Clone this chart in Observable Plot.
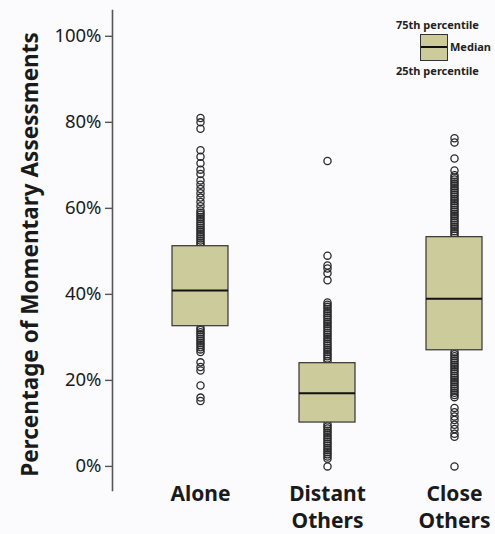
<!DOCTYPE html>
<html>
<head>
<meta charset="utf-8">
<script src="https://cdn.jsdelivr.net/npm/d3@7"></script>
<script src="https://cdn.jsdelivr.net/npm/@observablehq/plot@0.6"></script>
<style>
  html, body { margin: 0; padding: 0; background: #fbfbfd; }
  #wrap { position: relative; width: 495px; height: 534px; font-family: "Noto Sans", sans-serif; }
  .lg { position: absolute; font-size: 11px; font-weight: bold; color: #222; white-space: nowrap; line-height: 1; }
  #lgbox { position: absolute; left: 420px; top: 34px; width: 26px; height: 25px; background: #cbcb9b; border: 1.2px solid #333; }
  #lgmed { position: absolute; left: 0; right: 0; top: 11px; height: 0; border-top: 2px solid #111; }
</style>
</head>
<body>
<div id="wrap"></div>
<script>
const categories = ["Alone", "Distant Others", "Close Others"];
const q1 = [32.6, 10.2, 27];
const median = [40.9, 17, 39];
const q3 = [51.2, 24, 53.3];
const yTicks = [0, 20, 40, 60, 80, 100];

const aloneOutliers = [81, 80, 78.5, 73.5, 72, 70.5, 69, 68, 66.5, 65.5, 64.5, 63.5, 62.5, 61.5, 60.5, 59.5, 59, 58.5, 58, 57.5, 57, 56.5, 56, 55.5, 55, 54.5, 54, 53.5, 53, 52.5, 52, 51.6,
  32.2, 31.7, 31.2, 30.7, 30.2, 29.7, 29.2, 28.7, 28.2, 27.7, 27.2, 26.6, 24.2, 23.1, 22.3, 18.8, 16, 15.2];
const distantOutliers = [71, 49, 46.7, 46, 44.9, 43.3, 38.1, 37.6, 37.1, 36.6, 36.1, 35.6, 35.1, 34.6, 34.1, 33.6, 33.1, 32.6, 32.1, 31.6, 31.1, 30.6, 30.1, 29.6, 29.1, 28.6, 28.1, 27.6, 27.1, 26.6, 26.1, 25.6, 25.1, 24.5,
  9.8, 9.3, 8.8, 8.3, 7.8, 7.3, 6.8, 6.3, 5.8, 5.3, 4.8, 4.3, 3.8, 3.3, 2.8, 2.3, 1.8, 0];
const closeOutliers = [76.3, 75.3, 71.6, 68.8, 67.7, 67.2, 66.7, 66.2, 65.7, 65.2, 64.7, 64.2, 63.7, 63.2, 62.7, 62.2, 61.7, 61.2, 60.7, 60.2, 59.7, 59.2, 58.7, 58.2, 57.7, 57.2, 56.7, 56.2, 55.7, 55.2, 54.7, 54.2, 53.7,
  26.6, 26.1, 25.6, 25.1, 24.6, 24.1, 23.6, 23.1, 22.6, 22.1, 21.6, 21.1, 20.6, 20.1, 19.6, 19.1, 18.6, 18.1, 17.6, 17.1, 16.6, 16.1,
  13.6, 12.6, 11.6, 10.8, 9.7, 8.7, 7.6, 6.9, 0];

const boxes = categories.map((c, i) => ({cat: c, q1: q1[i], med: median[i], q3: q3[i]}));
const outliers = [
  ...aloneOutliers.map(v => ({cat: categories[0], v})),
  ...distantOutliers.map(v => ({cat: categories[1], v})),
  ...closeOutliers.map(v => ({cat: categories[2], v}))
];

const chart = Plot.plot({
  width: 495,
  height: 534,
  marginLeft: 112,
  marginRight: 0,
  marginTop: 10,
  marginBottom: 44,
  style: {background: "transparent", fontFamily: "Noto Sans, sans-serif", color: "#1a1a1a"},
  x: {domain: categories, range: [112, 541], paddingInner: 0.56, paddingOuter: 0.463},
  y: {domain: [-5.6, 106]},
  marks: [
    Plot.frame({anchor: "left", stroke: "#555", strokeWidth: 1.6}),
    Plot.axisY({ticks: yTicks, tickFormat: d => d + "%", tickSize: 7, tickPadding: 4, fontSize: 18.5, stroke: "#555", strokeWidth: 1.4, label: null}),
    Plot.axisX({tickSize: 0, tickPadding: 0, dy: -8, fontSize: 21, fontWeight: "bold", lineHeight: 1.26, tickFormat: d => d.replace(" ", "\n"), label: null}),
    Plot.text(["Percentage of Momentary Assessments"], {frameAnchor: "left", textAnchor: "middle", rotate: -90, dx: -82, dy: 4, fontSize: 22.5, fontWeight: "bold", fill: "#1a1a1a"}),
    Plot.dot(outliers, {x: "cat", y: "v", r: 3.6, stroke: "#2a2a2a", strokeWidth: 1.3, fill: "none"}),
    Plot.barY(boxes, {x: "cat", y1: "q1", y2: "q3", fill: "#cbcb9b", stroke: "#333", strokeWidth: 1.2}),
    Plot.tickY(boxes, {x: "cat", y: "med", stroke: "#111", strokeWidth: 2})
  ]
});

const wrap = document.getElementById("wrap");
wrap.appendChild(chart);
const add = (html) => { wrap.insertAdjacentHTML("beforeend", html); };
add('<div class="lg" style="left:396px; top:19px;">75th percentile</div>');
add('<div id="lgbox"><div id="lgmed"></div></div>');
add('<div class="lg" style="left:450px; top:41px;">Median</div>');
add('<div class="lg" style="left:396px; top:65px;">25th percentile</div>');
</script>
</body>
</html>
